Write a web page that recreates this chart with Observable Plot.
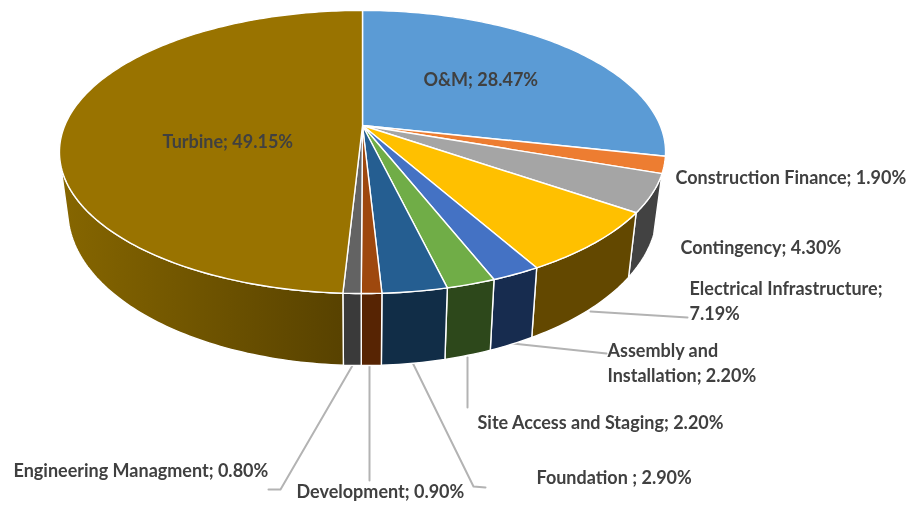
<!DOCTYPE html>
<html><head><meta charset="utf-8">
<style>html,body{margin:0;padding:0;background:#fff}svg{display:block;filter:blur(0.45px)}</style>
<script src="https://cdn.jsdelivr.net/npm/d3@7"></script>
<script src="https://cdn.jsdelivr.net/npm/@observablehq/plot@0.6"></script>
</head><body><div id="chart"></div>
<script>
const categories = ["O&M","Construction Finance","Contingency","Electrical Infrastructure","Assembly and Installation","Site Access and Staging","Foundation ","Development","Engineering Managment","Turbine"];
const shares = [28.47,1.90,4.30,7.19,2.20,2.20,2.90,0.90,0.80,49.15];
const topColors = ["#5b9bd5","#ed7d31","#a5a5a5","#ffc000","#4472c4","#70ad47","#255e91","#9e480e","#636363","#997300"];
const wallColors = [null,null,"#424242","#634800","#172c4f","#2d481b","#112d47","#572403","#3a3a3a","url(#turbineWall)"];
const labelText = ["O&M; 28.47%","Construction Finance; 1.90%","Contingency; 4.30%","Electrical Infrastructure;\n7.19%","Assembly and\nInstallation; 2.20%","Site Access and Staging; 2.20%","Foundation ; 2.90%","Development; 0.90%","Engineering Managment; 0.80%","Turbine; 49.15%"];
const labelX = [423,675,680,689,607,477,536,296,13,162];
const labelY = [78,176,246,299,361,421,476,490,469,140];
const leaderId = [3,3,4,4,5,5,6,6,6,7,7,8,8,8];
const leaderX = [590,687,512,606,467,467,412,473,485,369,369,352,280,268];
const leaderY = [311,317,343,353,357,407,362,486,487,365,480,365,489,489];

// Perspective ellipse of the pie's top face and bottom face
const topFace = {cx:362, cy:125, A:136.6, B:297.7, k:0.187};
const baseFace = {cx:362, cy:181.5, A:149.4, B:289.6, k:0.186};
const project = (f, deg) => {
  const t = deg * Math.PI / 180, u = Math.sin(t), v = Math.cos(t), d = 1 + f.k * v;
  return {x: f.cx + f.B * u / d, y: f.cy - f.A * v / d};
};
const total = d3.sum(shares);
const cum = d3.cumsum(shares);
const startDeg = i => (i ? cum[i - 1] : 0) / total * 360;
const endDeg = i => cum[i] / total * 360;
const arc = (f, a, b) => {
  const n = Math.max(2, Math.ceil(Math.abs(b - a)));
  return d3.range(n + 1).map(j => project(f, a + (b - a) * j / n));
};
const tops = categories.flatMap((c, i) => {
  const apex = {x: topFace.cx, y: topFace.cy};
  return [apex, ...arc(topFace, startDeg(i), endDeg(i)), apex].map(p => ({...p, c, color: topColors[i]}));
});
const walls = categories.flatMap((c, i) => {
  if (!wallColors[i]) return [];
  const a = startDeg(i), b = Math.min(endDeg(i), 255);
  const ring = [...arc(topFace, a, b), ...arc(baseFace, b, a)];
  return [...ring, ring[0]].map(p => ({...p, c, color: wallColors[i]}));
});
const labels = labelText.map((t, i) => ({t, x: labelX[i], y: labelY[i]}));
const leaders = leaderId.map((id, i) => ({id, x: leaderX[i], y: leaderY[i]}));

const gradient = () => {
  const defs = d3.create("svg:defs");
  const g = defs.append("linearGradient").attr("id", "turbineWall").attr("x1", 0).attr("x2", 1).attr("y1", 0).attr("y2", 0);
  g.append("stop").attr("offset", 0).attr("stop-color", "#866600");
  g.append("stop").attr("offset", 1).attr("stop-color", "#584200");
  return defs.node();
};
const poly = (data) => Plot.line(data, {x: "x", y: "y", z: "c", fill: {value: "color", scale: null}, stroke: "#fff", strokeWidth: 1.4, curve: "linear", strokeLinejoin: "round"});

const chart = Plot.plot({
  width: 915, height: 506, margin: 0,
  x: {domain: [0, 915], range: [0, 915], axis: null},
  y: {domain: [0, 506], range: [0, 506], axis: null},
  marks: [
    gradient,
    Plot.line(leaders, {x: "x", y: "y", z: "id", stroke: "#b3b3b3", strokeWidth: 2, curve: "linear"}),
    poly(walls),
    poly(tops),
    Plot.text(labels, {x: "x", y: "y", text: "t", textAnchor: "start", lineAnchor: "middle", lineHeight: 1.38, fontFamily: "Lato", fontWeight: "bold", fontSize: 18, fill: "#404040"})
  ]
});
document.getElementById("chart").append(chart);
</script></body></html>
